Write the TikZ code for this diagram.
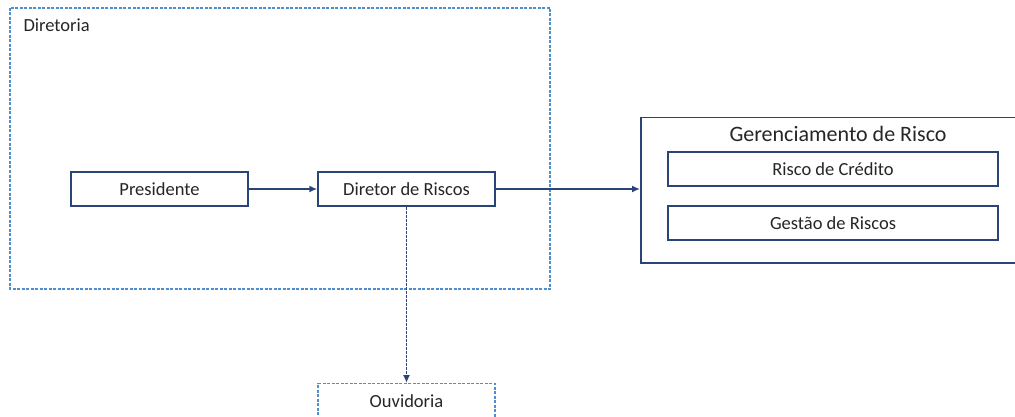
\documentclass[tikz,border=0pt]{standalone}
\usepackage{fontspec}
\setmainfont{Carlito}
\usetikzlibrary{arrows.meta}
\definecolor{darkb}{HTML}{2A4478}
\definecolor{lightb}{HTML}{4F8FCF}
\definecolor{txt}{HTML}{262626}
\tikzset{
  solidbox/.style={draw=darkb, line width=1.5pt, fill=white, text=txt, font=\fontsize{18.5}{22}\selectfont},
  dashbox/.style={draw=lightb, line width=1.2pt, dash pattern=on 3pt off 1.5pt, text=txt, font=\fontsize{18.5}{22}\selectfont},
  conn/.style={draw=darkb, line width=1.5pt, -{Latex[length=8pt,width=7pt]}},
}
\begin{document}
\begin{tikzpicture}[x=1pt,y=-1pt]
\useasboundingbox (0,0) rectangle (1015,417);
% Diretoria group
\draw[dashbox] (10,8) rectangle (550,289);
\node[anchor=west, text=txt, font=\fontsize{18.5}{22}\selectfont] (dirlab) at (20,25) {Diretoria};
% nodes
\node[solidbox, minimum width=177pt, minimum height=34pt, inner sep=0pt] (pres) at (159.5,189) {Presidente};
\node[solidbox, minimum width=177pt, minimum height=34pt, inner sep=0pt] (dir) at (406.5,189) {Diretor de Riscos};
% Gerenciamento group
\node[draw=darkb, line width=1.5pt, minimum width=378pt, minimum height=145pt, inner sep=0pt, anchor=north west] (ger) at (640,117) {};
\node[text=txt, font=\fontsize{22}{26}\selectfont] (gerlab) at (838,134) {Gerenciamento de Risco};
\node[solidbox, minimum width=330pt, minimum height=34pt, inner sep=0pt] (cred) at (833,169) {Risco de Crédito};
\node[solidbox, minimum width=330pt, minimum height=34pt, inner sep=0pt] (gest) at (833,223) {Gestão de Riscos};
% Ouvidoria
\node[dashbox, minimum width=177pt, minimum height=36pt, inner sep=0pt, anchor=north] (ouv) at (406.5,383) {};
\node[text=txt, font=\fontsize{18.5}{22}\selectfont] (ouvlab) at (406.5,401) {Ouvidoria};
% connectors
\draw[conn] (pres.east) -- (dir.west);
\draw[conn] (dir.east) -- (ger.west |- dir.east);
\draw[conn, line width=1.8pt, dash pattern=on 3pt off 1pt] (dir.south) -- (ouv.north);
\end{tikzpicture}
\end{document}
